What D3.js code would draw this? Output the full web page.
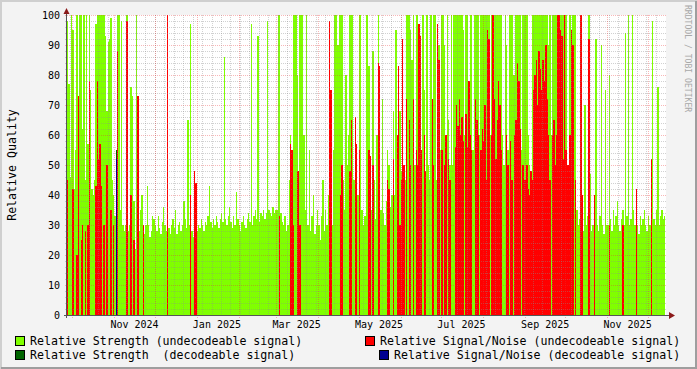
<!DOCTYPE html>
<html>
<head>
<meta charset="utf-8">
<script src="https://cdn.jsdelivr.net/npm/d3@7/dist/d3.min.js"></script>
<style>
  body { margin: 0; background: #f3f3f3; }
  svg { display: block; }
  text { font-family: "DejaVu Sans Mono", monospace; }
</style>
</head>
<body>
<script>
// one value per day, starting 2024-09-27 (UTC)
const startDay = "2024-09-27"

// Relative Strength (undecodeable signal)
const strength = [
  98, 77, 46, 100,                                                                                              // Sep 2024
  95, 42, 55, 100, 60, 100, 100, 62, 100, 45, 100, 57, 100, 75, 42, 40, 45, 97, 100, 100, 100, 100, 100, 100, 93, 68, 91, 92, 99, 45, 40, // Oct
  33, 30, 100, 100, 35, 98, 30, 28, 30, 100, 28, 30, 76, 73, 38, 22, 100, 30, 28, 35, 40, 23, 27, 30, 43, 30, 26, 28, 33, 32,   // Nov
  30, 28, 33, 29, 27, 31, 36, 30, 28, 30, 29, 27, 30, 32, 29, 35, 27, 30, 31, 28, 30, 38, 32, 29, 65, 30, 97, 28, 26, 30, 32, // Dec
  28, 30, 29, 32, 30, 28, 31, 30, 33, 43, 31, 29, 32, 30, 33, 31, 29, 32, 34, 31, 86, 32, 30, 33, 36, 31, 29, 33, 30, 41, 32, // Jan 2025
  30, 28, 31, 33, 30, 29, 32, 34, 31, 97, 30, 33, 35, 32, 93, 31, 34, 33, 35, 32, 34, 98, 35, 34, 33, 36, 34, 35,           // Feb
  35, 100, 100, 34, 31, 30, 33, 28, 30, 45, 60, 35, 100, 100, 100, 80, 42, 100, 100, 100, 60, 35, 100, 30, 55, 28, 33, 40, 27, 30, 35, // Mar
  30, 25, 33, 45, 28, 35, 30, 40, 42, 35, 30, 55, 100, 100, 90, 100, 100, 100, 45, 35, 80, 50, 60, 100, 100, 100, 45, 40, 38, 40, // Apr
  100, 100, 35, 30, 33, 100, 100, 83, 40, 35, 88, 45, 32, 60, 100, 30, 35, 72, 34, 30, 38, 55, 50, 36, 40, 68, 40, 95, 60, 45, 68, // May
  48, 40, 50, 45, 100, 100, 100, 95, 85, 100, 50, 100, 100, 45, 60, 50, 100, 75, 40, 100, 50, 45, 100, 55, 100, 100, 45, 60, 90, 55, // Jun
  100, 100, 90, 55, 100, 65, 50, 100, 50, 100, 100, 100, 100, 100, 100, 100, 95, 60, 100, 100, 70, 100, 100, 55, 100, 100, 100, 100, 60, 100, 100, // Jul
  100, 100, 100, 100, 100, 60, 100, 100, 100, 100, 100, 100, 100, 100, 60, 50, 100, 90, 55, 100, 100, 100, 80, 80, 100, 100, 100, 100, 55, 100, 100, // Aug
  100, 100, 60, 50, 45, 100, 100, 100, 100, 100, 100, 100, 100, 100, 100, 100, 100, 90, 100, 60, 100, 100, 100, 100, 100, 100, 100, 100, 100, 100, // Sep
  100, 45, 40, 100, 50, 100, 100, 100, 35, 30, 32, 100, 30, 28, 70, 30, 33, 100, 47, 28, 30, 32, 92, 30, 28, 33, 90, 30, 27, 75, 30, // Oct
  30, 80, 32, 28, 35, 30, 33, 38, 30, 28, 32, 35, 30, 94, 33, 100, 30, 32, 100, 35, 30, 38, 30, 27, 33, 30, 32, 35, 30, 28,   // Nov
  33, 30, 30, 98, 32, 30, 35, 76, 30, 33, 35, 32, 33                                                                         // Dec 1-13
]

// Relative Signal/Noise (undecodeable signal), 0 = no value
const snr = [
  45, 0, 0, 0,
  42, 0, 0, 20, 73, 0, 25, 30, 0, 28, 0, 30, 78, 0, 0, 0, 0, 43, 78, 52, 57, 43, 0, 30, 0, 50, 0, 0, 35, 0, 30,
  0, 0, 88, 0, 0, 0, 0, 0, 0, 98, 0, 0, 40, 0, 25, 0, 0, 73, 0, 0, 0, 30, 0, 0, 0, 0, 0, 0, 0, 0,
  0, 0, 0, 0, 0, 0, 0, 0, 0, 100, 0, 0, 0, 0, 0, 0, 0, 0, 0, 0, 0, 0, 0, 0, 0, 0, 40, 0, 0, 48, 44,
  0, 0, 0, 0, 0, 0, 0, 0, 0, 0, 0, 0, 0, 0, 0, 0, 0, 0, 0, 0, 0, 0, 0, 0, 0, 0, 0, 0, 0, 0, 0,
  0, 0, 0, 0, 0, 0, 0, 0, 0, 0, 0, 0, 0, 0, 0, 0, 0, 0, 0, 0, 0, 0, 0, 0, 0, 0, 0, 0,
  0, 0, 33, 0, 0, 0, 0, 0, 0, 0, 57, 55, 30, 0, 0, 48, 48, 30, 0, 0, 0, 0, 0, 0, 0, 0, 0, 0, 0, 0, 0,
  0, 0, 0, 0, 0, 0, 0, 0, 98, 75, 0, 0, 0, 0, 0, 0, 40, 50, 0, 0, 0, 0, 0, 48, 65, 0, 0, 66, 57, 0,
  55, 0, 0, 0, 0, 0, 0, 55, 53, 0, 50, 0, 0, 0, 84, 83, 0, 0, 0, 0, 0, 45, 42, 0, 0, 52, 0, 0, 60, 83, 30,
  45, 92, 50, 0, 72, 0, 65, 50, 0, 72, 0, 55, 50, 97, 93, 55, 0, 60, 48, 0, 0, 0, 0, 72, 50, 0, 0, 97, 85, 0,
  55, 0, 50, 60, 0, 52, 45, 0, 0, 0, 56, 70, 63, 72, 60, 66, 58, 0, 67, 56, 78, 60, 55, 0, 0, 72, 65, 60, 0, 55, 62,
  58, 70, 45, 95, 92, 0, 60, 100, 72, 52, 65, 78, 70, 55, 0, 0, 0, 60, 50, 0, 58, 45, 0, 60, 65, 84, 78, 62, 0, 50, 45,
  45, 50, 42, 40, 48, 45, 75, 80, 85, 70, 88, 82, 75, 85, 78, 90, 72, 60, 45, 0, 60, 65, 50, 60, 100, 100, 95, 93, 52, 100,
  55, 50, 50, 60, 95, 90, 0, 45, 0, 0, 0, 100, 40, 0, 0, 0, 0, 92, 0, 0, 0, 40, 0, 0, 0, 0, 0, 0, 0, 0, 0,
  0, 30, 0, 0, 0, 0, 0, 0, 0, 0, 0, 30, 0, 0, 0, 0, 0, 0, 0, 0, 0, 42, 0, 0, 0, 0, 0, 0, 0, 0,
  0, 0, 52, 0, 0, 0, 0, 0, 0, 0, 0, 0, 0
]

// decodeable signal: only a few days
const strengthDecoded = [["2024-11-02", 55]]
const snrDecoded = [["2024-11-02", 52]]

const yTicks = [0, 10, 20, 30, 40, 50, 60, 70, 80, 90, 100]

const legendItems = [
  {label: "Relative Strength (undecodeable signal)", color: "#80ff00"},
  {label: "Relative Signal/Noise (undecodeable signal)", color: "#ff0000"},
  {label: "Relative Strength  (decodeable signal)", color: "#006400"},
  {label: "Relative Signal/Noise (decodeable signal)", color: "#000090"}
]

const w = 697
const h = 369
const plotLeft = 67, plotRight = 665.4, plotTop = 15, plotBottom = 315

const start = new Date(startDay + "T00:00:00Z")
const days = strength.map((d, i) => d3.utcDay.offset(start, i))
const end = d3.utcDay.offset(start, strength.length)

const x = d3.scaleUtc().domain([start, end]).range([plotLeft, plotRight])
const y = d3.scaleLinear().domain([0, 100]).range([plotBottom, plotTop])

const svg = d3.select('body')
    .append('svg')
    .attr('width', w)
    .attr('height', h)

// frame
svg.append('rect').attr('width', w).attr('height', h).attr('fill', '#f3f3f3')
svg.append('path').attr('d', `M1,${h} V1 H${w}`).attr('stroke', '#cfcfcf').attr('stroke-width', 2).attr('fill', 'none')
svg.append('path').attr('d', `M1,${h - 1} H${w - 1} V1`).attr('stroke', '#9e9e9e').attr('stroke-width', 2).attr('fill', 'none')

svg.append('rect')
    .attr('x', plotLeft).attr('y', plotTop)
    .attr('width', 599).attr('height', plotBottom - plotTop)
    .attr('fill', '#fff')

const px = d => Math.round(x(d))

const bars = (values, color) => {
    svg.append('g')
        .attr('shape-rendering', 'crispEdges')
        .selectAll('rect')
        .data(values.map((v, i) => [days[i], v]).filter(d => d[1] > 0))
        .enter()
        .append('rect')
        .attr('x', d => px(d[0]))
        .attr('width', d => px(d3.utcDay.offset(d[0], 1)) - px(d[0]))
        .attr('y', d => y(d[1]))
        .attr('height', d => y(0) - y(d[1]))
        .attr('fill', color)
}

const sparse = list => {
    const arr = strength.map(() => 0)
    list.forEach(([day, v]) => {
        arr[d3.utcDay.count(start, new Date(day + "T00:00:00Z"))] = v
    })
    return arr
}

bars(strength, legendItems[0].color)
bars(snr, legendItems[1].color)
bars(sparse(strengthDecoded), legendItems[2].color)
bars(sparse(snrDecoded), legendItems[3].color)

// grid on top of the data
const minorCol = 'rgba(140,140,140,0.4)'
const majorCol = 'rgba(235,50,50,0.35)'
const grid = svg.append('g').attr('shape-rendering', 'crispEdges').attr('stroke-dasharray', '1,1')

d3.range(0, 101, 2).forEach(v => {
    grid.append('line')
        .attr('x1', plotLeft - 2).attr('x2', 666)
        .attr('y1', y(v) + 0.5).attr('y2', y(v) + 0.5)
        .attr('stroke', v % 10 === 0 ? majorCol : minorCol)
})

d3.utcSunday.range(start, end).forEach(d => {
    grid.append('line')
        .attr('x1', px(d) + 0.5).attr('x2', px(d) + 0.5)
        .attr('y1', plotTop).attr('y2', plotBottom + 2)
        .attr('stroke', minorCol)
})
d3.utcMonth.range(start, end).forEach(d => {
    grid.append('line')
        .attr('x1', px(d) + 0.5).attr('x2', px(d) + 0.5)
        .attr('y1', plotTop).attr('y2', plotBottom + 3)
        .attr('stroke', majorCol)
})

// axes
svg.append('line')
    .attr('x1', plotLeft - 3).attr('x2', 670)
    .attr('y1', plotBottom + 0.5).attr('y2', plotBottom + 0.5)
    .attr('stroke', '#555').attr('shape-rendering', 'crispEdges')
svg.append('line')
    .attr('x1', plotLeft - 0.5).attr('x2', plotLeft - 0.5)
    .attr('y1', plotBottom + 3).attr('y2', 11)
    .attr('stroke', '#555').attr('shape-rendering', 'crispEdges')
svg.append('path').attr('d', `M669,312 L675,315.5 L669,319 Z`).attr('fill', '#8b1a1a')
svg.append('path').attr('d', `M63.5,14 L66.5,8 L69.5,14 Z`).attr('fill', '#8b1a1a')

// y labels
svg.append('g')
    .selectAll('text')
    .data(yTicks)
    .enter()
    .append('text')
    .attr('x', 60)
    .attr('y', d => y(d) + 3.5)
    .attr('text-anchor', 'end')
    .attr('font-size', '10px')
    .text(d => d)

// x labels, centred in the middle of every second month
const fmt = d3.utcFormat('%b %Y')
svg.append('g')
    .selectAll('text')
    .data(d3.utcMonth.every(2).range(start, end))
    .enter()
    .append('text')
    .attr('x', d => x(d3.utcDay.offset(d, 15)))
    .attr('y', 328)
    .attr('text-anchor', 'middle')
    .attr('font-size', '10px')
    .text(fmt)

svg.append('text')
    .attr('transform', `translate(16,${(plotTop + plotBottom) / 2}) rotate(-90)`)
    .attr('text-anchor', 'middle')
    .attr('font-size', '11.6px')
    .text('Relative Quality')

svg.append('text')
    .attr('transform', 'translate(685,5) rotate(90)')
    .attr('font-size', '8.1px')
    .attr('fill', '#a8a8a8')
    .text('RRDTOOL / TOBI OETIKER')

// legend
const legendPos = [[15.5, 336.5], [365.5, 336.5], [15.5, 350.5], [379.5, 350.5]]
const legend = svg.append('g')
legend.selectAll('rect')
    .data(legendItems)
    .enter()
    .append('rect')
    .attr('x', (d, i) => legendPos[i][0])
    .attr('y', (d, i) => legendPos[i][1])
    .attr('width', 9).attr('height', 9)
    .attr('fill', d => d.color)
    .attr('stroke', '#000')
legend.selectAll('text')
    .data(legendItems)
    .enter()
    .append('text')
    .attr('x', (d, i) => legendPos[i][0] + 14.5)
    .attr('y', (d, i) => legendPos[i][1] + 8.5)
    .attr('font-size', '11.6px')
    .style('white-space', 'pre')
    .text(d => d.label)
</script>
</body>
</html>
